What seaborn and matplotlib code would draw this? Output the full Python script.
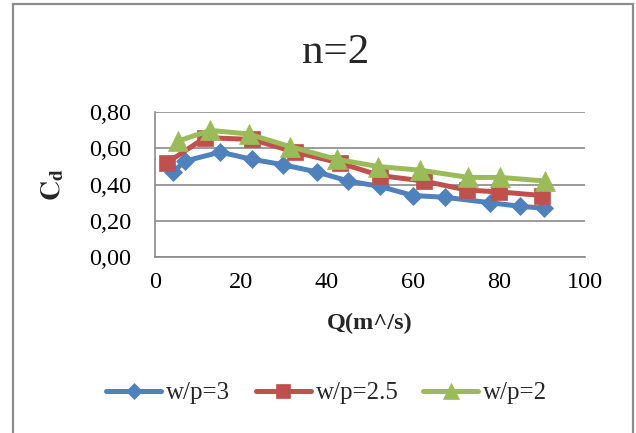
import matplotlib
matplotlib.use("Agg")
import matplotlib.pyplot as plt
from matplotlib.patches import Rectangle
from matplotlib.ticker import FuncFormatter
import seaborn as sns
import pandas as pd

# Discharge Q (m^3/s) and discharge coefficient Cd for each w/p ratio
q_wp3 = [4.3, 7.0, 15.2, 22.6, 29.9, 37.7, 45.0, 52.4, 60.0, 67.5, 78.0, 85.0, 90.4]
cd_wp3 = [0.47, 0.53, 0.58, 0.54, 0.51, 0.47, 0.42, 0.39, 0.34, 0.33, 0.30, 0.28, 0.27]

q_wp25 = [2.8, 11.7, 22.6, 32.6, 43.0, 52.4, 62.5, 72.6, 80.0, 90.0]
cd_wp25 = [0.52, 0.66, 0.65, 0.58, 0.52, 0.45, 0.42, 0.37, 0.36, 0.34]

q_wp2 = [5.3, 12.9, 21.8, 31.5, 42.3, 52.0, 61.7, 72.9, 80.3, 90.8]
cd_wp2 = [0.64, 0.70, 0.68, 0.61, 0.54, 0.50, 0.48, 0.44, 0.44, 0.42]

series_labels = ["w/p=3", "w/p=2.5", "w/p=2"]
series_colors = ["#4F81BD", "#C0504D", "#9BBB59"]
series_markers = ["D", "s", "^"]
series_msize = [9, 12, 14]

x_ticks = [0, 20, 40, 60, 80, 100]
y_ticks = [0.0, 0.2, 0.4, 0.6, 0.8]

sns.set_theme(style="white")
plt.rcParams["font.family"] = ["Liberation Serif", "DejaVu Serif"]
plt.rcParams["mathtext.fontset"] = "stix"

W, H = 636, 433
fig = plt.figure(figsize=(W / 100, H / 100), dpi=100)
ax = fig.add_axes([154.7 / W, 1 - 257 / H, (585 - 154.7) / W, (257 - 112.3) / H])

data = [(q_wp3, cd_wp3), (q_wp25, cd_wp25), (q_wp2, cd_wp2)]
for (q, cd), lab, col, mk, ms in zip(data, series_labels, series_colors,
                                      series_markers, series_msize):
    df = pd.DataFrame({"Q": q, "Cd": cd})
    sns.lineplot(data=df, x="Q", y="Cd", ax=ax, color=col, marker=mk,
                 markersize=ms, markeredgecolor=col, markeredgewidth=0.5,
                 linewidth=3.6, label=lab, sort=False, errorbar=None)

ax.set_xlim(0, 100)
ax.set_ylim(0, 0.8)
ax.set_xticks(x_ticks)
ax.set_yticks(y_ticks)
ax.yaxis.set_major_formatter(FuncFormatter(lambda v, p: f"{v:.2f}".replace(".", ",")))
ax.tick_params(axis="both", length=0, labelsize=17.5, colors="black")
ax.tick_params(axis="y", pad=17)
ax.tick_params(axis="x", pad=11)

grid_col = "#8a8a8a"
ax.yaxis.grid(True, color=grid_col, linewidth=1.2)
ax.xaxis.grid(False)
ax.set_axisbelow(True)
for side in ["top", "right"]:
    ax.spines[side].set_visible(False)
for side in ["left", "bottom"]:
    ax.spines[side].set_color(grid_col)
    ax.spines[side].set_linewidth(1.2)

ax.set_xlabel("Q(m^/s)", fontsize=17.5, fontweight="bold", labelpad=14)
ax.set_ylabel(r"$\mathbf{C_d}$", fontsize=20)
ax.yaxis.set_label_coords((66 - 154.7) / (585 - 154.7), 0.5)

fig.text(336 / W, 1 - 53 / H, "n=2", fontsize=31, ha="center", va="center")

handles, labels = ax.get_legend_handles_labels()
ax.legend_.remove()
fig.legend(handles, labels, loc="center", bbox_to_anchor=(327 / W, 1 - 393 / H),
           ncol=3, frameon=False, fontsize=18, handlelength=2.2,
           handletextpad=0.2, columnspacing=1.0, borderaxespad=0,
           markerscale=0.85)

fig.add_artist(Rectangle((13 / W, -0.02), (633 - 13) / W, (433 - 4) / H + 0.02,
                         transform=fig.transFigure, fill=False,
                         edgecolor="#8c8c8c", linewidth=1.6))

fig.savefig("out.png", dpi=100)
